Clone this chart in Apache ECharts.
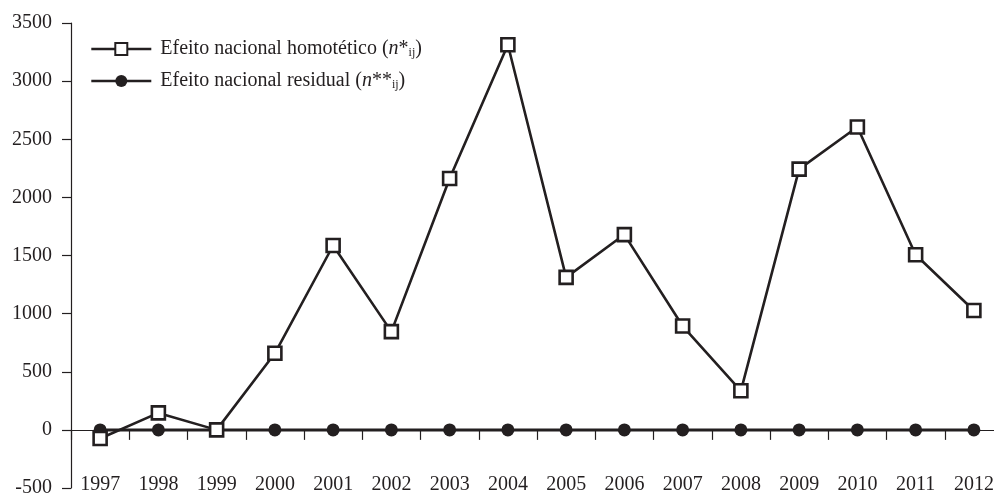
<!DOCTYPE html>
<html>
<head>
<meta charset="utf-8">
<script src="https://cdn.jsdelivr.net/npm/echarts@6/dist/echarts.min.js"></script>
<style>
  html, body { margin: 0; padding: 0; background: #fff; }
  #chart { width: 994px; height: 497px; }
</style>
</head>
<body>
<div id="chart"></div>
<script>
const years = ['1997', '1998', '1999', '2000', '2001', '2002', '2003', '2004',
  '2005', '2006', '2007', '2008', '2009', '2010', '2011', '2012']
const homotetico = [-74, 146, 0, 659, 1586, 845, 2163, 3313, 1312, 1680, 893, 336, 2243, 2605, 1507, 1027]
const residual = [0, 0, 0, 0, 0, 0, 0, 0, 0, 0, 0, 0, 0, 0, 0, 0]
const seriesNames = ['Efeito nacional homotético', 'Efeito nacional residual']
const stars = ['*', '**']

const ink = '#231f20'
const font = 'Liberation Serif'

const chart = echarts.init(document.getElementById('chart'))

const option = {
  animation: false,
  textStyle: { fontFamily: font, color: ink },
  grid: { left: 71, right: -9, top: 23, bottom: 9, containLabel: false, outerBoundsMode: 'none' },
  legend: {
    orient: 'vertical',
    left: 85,
    top: 34,
    padding: 5,
    itemWidth: 60,
    itemHeight: 15,
    itemGap: 12,
    data: seriesNames,
    lineStyle: { width: 2.6 },
    formatter: name => {
      const i = seriesNames.indexOf(name)
      return '{t|' + name + ' (}{i|n}{t|' + stars[i] + '}{s|ij}{t|)}'
    },
    textStyle: {
      fontFamily: font,
      fontSize: 20,
      color: ink,
      padding: [0, 0, 0, 4],
      rich: {
        t: { fontFamily: font, fontSize: 20, color: ink },
        i: { fontFamily: font, fontSize: 20, fontStyle: 'italic', color: ink },
        s: { fontFamily: font, fontSize: 12, color: ink, verticalAlign: 'bottom', padding: [8, 0, 0, 0] }
      }
    }
  },
  xAxis: [
    {
      // axis line and ticks sitting on the zero line
      type: 'category',
      data: years,
      boundaryGap: true,
      axisLine: { onZero: true, lineStyle: { color: ink, width: 1 } },
      axisTick: { show: true, interval: 0, length: 10, lineStyle: { color: ink, width: 1.2 } },
      axisLabel: { show: false },
      splitLine: { show: false }
    },
    {
      // year labels along the bottom of the plot
      type: 'category',
      data: years,
      position: 'bottom',
      boundaryGap: true,
      axisLine: { show: false, onZero: false },
      axisTick: { show: false },
      axisLabel: { margin: -13, fontSize: 20, color: ink, fontFamily: font, interval: 0 },
      splitLine: { show: false }
    }
  ],
  yAxis: {
    type: 'value',
    min: -500,
    max: 3500,
    interval: 500,
    axisLine: { show: true, lineStyle: { color: ink, width: 1.2 } },
    axisTick: { show: true, length: 9, lineStyle: { color: ink, width: 1.2 } },
    axisLabel: { margin: 19, fontSize: 20, color: ink, fontFamily: font, formatter: v => String(v) },
    splitLine: { show: false }
  },
  series: [
    {
      name: seriesNames[0],
      type: 'line',
      data: homotetico,
      symbol: 'rect',
      symbolSize: 13,
      showAllSymbol: true,
      lineStyle: { color: ink, width: 2.6 },
      itemStyle: { color: '#fff', borderColor: ink, borderWidth: 2.6 },
      z: 3
    },
    {
      name: seriesNames[1],
      type: 'line',
      data: residual,
      symbol: 'circle',
      symbolSize: 13,
      showAllSymbol: true,
      lineStyle: { color: ink, width: 3 },
      itemStyle: { color: ink, borderColor: ink, borderWidth: 0 },
      z: 2
    }
  ]
}

chart.setOption(option)
window.addEventListener('resize', () => chart.resize())
</script>
</body>
</html>
